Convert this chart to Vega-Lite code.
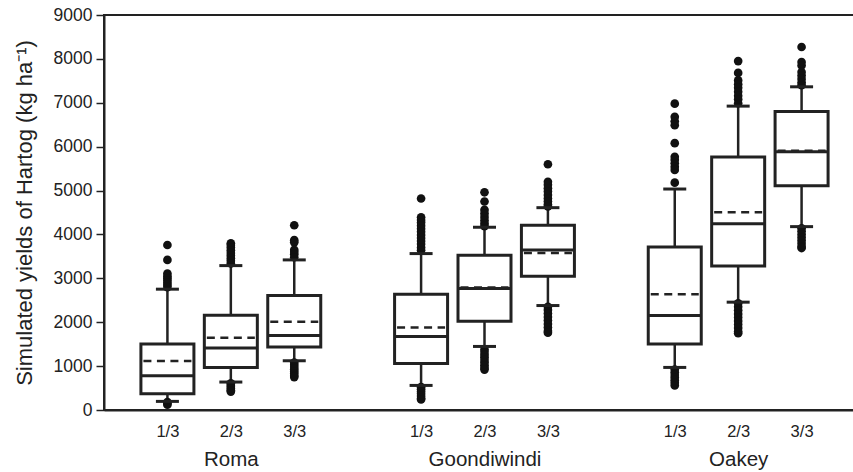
{
  "$schema": "https://vega.github.io/schema/vega-lite/v6.json",
  "width": 761,
  "height": 395,
  "autosize": "none",
  "padding": {"left": 104, "top": 15, "right": 0, "bottom": 62},
  "background": "white",
  "config": {
    "view": {"stroke": "#222", "strokeWidth": 2},
    "axis": {"labelFont": "Liberation Sans", "titleFont": "Liberation Sans", "labelColor": "#222", "titleColor": "#222", "grid": false, "domainColor": "#222", "tickColor": "#222"},
    "axisY": {"labelFontSize": 17.5, "labelPadding": 4, "tickSize": 8, "tickWidth": 1.5, "domainWidth": 2, "titleFontSize": 22, "titleFontWeight": "normal", "titlePadding": 17}
  },
  "datasets": {
    "boxes": [
      {"group": "Roma 1/3", "lower": 196, "q1": 371, "median": 780, "mean": 1115, "q3": 1502, "upper": 2753},
      {"group": "Roma 2/3", "lower": 637, "q1": 970, "median": 1411, "mean": 1645, "q3": 2161, "upper": 3290},
      {"group": "Roma 3/3", "lower": 1122, "q1": 1433, "median": 1697, "mean": 2009, "q3": 2608, "upper": 3420},
      {"group": "Goondiwindi 1/3", "lower": 560, "q1": 1061, "median": 1675, "mean": 1880, "q3": 2639, "upper": 3564},
      {"group": "Goondiwindi 2/3", "lower": 1448, "q1": 2025, "median": 2767, "mean": 2790, "q3": 3527, "upper": 4164},
      {"group": "Goondiwindi 3/3", "lower": 2380, "q1": 3049, "median": 3647, "mean": 3579, "q3": 4209, "upper": 4610},
      {"group": "Oakey 1/3", "lower": 970, "q1": 1502, "median": 2152, "mean": 2639, "q3": 3716, "upper": 5035},
      {"group": "Oakey 2/3", "lower": 2457, "q1": 3283, "median": 4246, "mean": 4504, "q3": 5763, "upper": 6924},
      {"group": "Oakey 3/3", "lower": 4178, "q1": 5110, "median": 5884, "mean": 5907, "q3": 6803, "upper": 7364}
    ],
    "outliers": [
      {"group": "Roma 1/3", "yield": 3760}, {"group": "Roma 1/3", "yield": 3420}, {"group": "Roma 1/3", "yield": 3110},
      {"group": "Roma 1/3", "yield": 3050}, {"group": "Roma 1/3", "yield": 3000}, {"group": "Roma 1/3", "yield": 2950},
      {"group": "Roma 1/3", "yield": 2900}, {"group": "Roma 1/3", "yield": 2850}, {"group": "Roma 1/3", "yield": 2800},
      {"group": "Roma 1/3", "yield": 180}, {"group": "Roma 1/3", "yield": 150}, {"group": "Roma 1/3", "yield": 120},
      {"group": "Roma 2/3", "yield": 3800}, {"group": "Roma 2/3", "yield": 3760}, {"group": "Roma 2/3", "yield": 3700},
      {"group": "Roma 2/3", "yield": 3640}, {"group": "Roma 2/3", "yield": 3580}, {"group": "Roma 2/3", "yield": 3520},
      {"group": "Roma 2/3", "yield": 3460}, {"group": "Roma 2/3", "yield": 3400}, {"group": "Roma 2/3", "yield": 3340},
      {"group": "Roma 2/3", "yield": 610}, {"group": "Roma 2/3", "yield": 570}, {"group": "Roma 2/3", "yield": 530},
      {"group": "Roma 2/3", "yield": 490}, {"group": "Roma 2/3", "yield": 450}, {"group": "Roma 2/3", "yield": 420},
      {"group": "Roma 3/3", "yield": 4210}, {"group": "Roma 3/3", "yield": 3870}, {"group": "Roma 3/3", "yield": 3820},
      {"group": "Roma 3/3", "yield": 3650}, {"group": "Roma 3/3", "yield": 3600}, {"group": "Roma 3/3", "yield": 3550},
      {"group": "Roma 3/3", "yield": 3480}, {"group": "Roma 3/3", "yield": 1080}, {"group": "Roma 3/3", "yield": 1030},
      {"group": "Roma 3/3", "yield": 980}, {"group": "Roma 3/3", "yield": 930}, {"group": "Roma 3/3", "yield": 880},
      {"group": "Roma 3/3", "yield": 830}, {"group": "Roma 3/3", "yield": 780}, {"group": "Roma 3/3", "yield": 750},
      {"group": "Goondiwindi 1/3", "yield": 4820}, {"group": "Goondiwindi 1/3", "yield": 4390}, {"group": "Goondiwindi 1/3", "yield": 4330},
      {"group": "Goondiwindi 1/3", "yield": 4270}, {"group": "Goondiwindi 1/3", "yield": 4200}, {"group": "Goondiwindi 1/3", "yield": 4130},
      {"group": "Goondiwindi 1/3", "yield": 4060}, {"group": "Goondiwindi 1/3", "yield": 3990}, {"group": "Goondiwindi 1/3", "yield": 3920},
      {"group": "Goondiwindi 1/3", "yield": 3850}, {"group": "Goondiwindi 1/3", "yield": 3780}, {"group": "Goondiwindi 1/3", "yield": 3700},
      {"group": "Goondiwindi 1/3", "yield": 3640}, {"group": "Goondiwindi 1/3", "yield": 520}, {"group": "Goondiwindi 1/3", "yield": 470},
      {"group": "Goondiwindi 1/3", "yield": 420}, {"group": "Goondiwindi 1/3", "yield": 370}, {"group": "Goondiwindi 1/3", "yield": 320},
      {"group": "Goondiwindi 1/3", "yield": 270}, {"group": "Goondiwindi 1/3", "yield": 240},
      {"group": "Goondiwindi 2/3", "yield": 4960}, {"group": "Goondiwindi 2/3", "yield": 4750}, {"group": "Goondiwindi 2/3", "yield": 4560},
      {"group": "Goondiwindi 2/3", "yield": 4480}, {"group": "Goondiwindi 2/3", "yield": 4400}, {"group": "Goondiwindi 2/3", "yield": 4320},
      {"group": "Goondiwindi 2/3", "yield": 4250}, {"group": "Goondiwindi 2/3", "yield": 4190}, {"group": "Goondiwindi 2/3", "yield": 1380},
      {"group": "Goondiwindi 2/3", "yield": 1320}, {"group": "Goondiwindi 2/3", "yield": 1260}, {"group": "Goondiwindi 2/3", "yield": 1200},
      {"group": "Goondiwindi 2/3", "yield": 1140}, {"group": "Goondiwindi 2/3", "yield": 1080}, {"group": "Goondiwindi 2/3", "yield": 1020},
      {"group": "Goondiwindi 2/3", "yield": 960}, {"group": "Goondiwindi 2/3", "yield": 920},
      {"group": "Goondiwindi 3/3", "yield": 5600}, {"group": "Goondiwindi 3/3", "yield": 5200}, {"group": "Goondiwindi 3/3", "yield": 5130},
      {"group": "Goondiwindi 3/3", "yield": 5050}, {"group": "Goondiwindi 3/3", "yield": 4980}, {"group": "Goondiwindi 3/3", "yield": 4900},
      {"group": "Goondiwindi 3/3", "yield": 4820}, {"group": "Goondiwindi 3/3", "yield": 4750}, {"group": "Goondiwindi 3/3", "yield": 4680},
      {"group": "Goondiwindi 3/3", "yield": 4640}, {"group": "Goondiwindi 3/3", "yield": 2350}, {"group": "Goondiwindi 3/3", "yield": 2280},
      {"group": "Goondiwindi 3/3", "yield": 2200}, {"group": "Goondiwindi 3/3", "yield": 2120}, {"group": "Goondiwindi 3/3", "yield": 2040},
      {"group": "Goondiwindi 3/3", "yield": 1960}, {"group": "Goondiwindi 3/3", "yield": 1880}, {"group": "Goondiwindi 3/3", "yield": 1800},
      {"group": "Goondiwindi 3/3", "yield": 1760},
      {"group": "Oakey 1/3", "yield": 6980}, {"group": "Oakey 1/3", "yield": 6680}, {"group": "Oakey 1/3", "yield": 6580},
      {"group": "Oakey 1/3", "yield": 6490}, {"group": "Oakey 1/3", "yield": 6080}, {"group": "Oakey 1/3", "yield": 5770},
      {"group": "Oakey 1/3", "yield": 5700}, {"group": "Oakey 1/3", "yield": 5620}, {"group": "Oakey 1/3", "yield": 5540},
      {"group": "Oakey 1/3", "yield": 5470}, {"group": "Oakey 1/3", "yield": 5180}, {"group": "Oakey 1/3", "yield": 920},
      {"group": "Oakey 1/3", "yield": 860}, {"group": "Oakey 1/3", "yield": 800}, {"group": "Oakey 1/3", "yield": 740},
      {"group": "Oakey 1/3", "yield": 680}, {"group": "Oakey 1/3", "yield": 620}, {"group": "Oakey 1/3", "yield": 560},
      {"group": "Oakey 2/3", "yield": 7950}, {"group": "Oakey 2/3", "yield": 7680}, {"group": "Oakey 2/3", "yield": 7510},
      {"group": "Oakey 2/3", "yield": 7420}, {"group": "Oakey 2/3", "yield": 7340}, {"group": "Oakey 2/3", "yield": 7250},
      {"group": "Oakey 2/3", "yield": 7160}, {"group": "Oakey 2/3", "yield": 7080}, {"group": "Oakey 2/3", "yield": 6990},
      {"group": "Oakey 2/3", "yield": 2430}, {"group": "Oakey 2/3", "yield": 2350}, {"group": "Oakey 2/3", "yield": 2270},
      {"group": "Oakey 2/3", "yield": 2190}, {"group": "Oakey 2/3", "yield": 2110}, {"group": "Oakey 2/3", "yield": 2030},
      {"group": "Oakey 2/3", "yield": 1950}, {"group": "Oakey 2/3", "yield": 1870}, {"group": "Oakey 2/3", "yield": 1790},
      {"group": "Oakey 2/3", "yield": 1750},
      {"group": "Oakey 3/3", "yield": 8270}, {"group": "Oakey 3/3", "yield": 7930}, {"group": "Oakey 3/3", "yield": 7850},
      {"group": "Oakey 3/3", "yield": 7700}, {"group": "Oakey 3/3", "yield": 7620}, {"group": "Oakey 3/3", "yield": 7540},
      {"group": "Oakey 3/3", "yield": 7460}, {"group": "Oakey 3/3", "yield": 7400}, {"group": "Oakey 3/3", "yield": 4140},
      {"group": "Oakey 3/3", "yield": 4070}, {"group": "Oakey 3/3", "yield": 4000}, {"group": "Oakey 3/3", "yield": 3930},
      {"group": "Oakey 3/3", "yield": 3860}, {"group": "Oakey 3/3", "yield": 3790}, {"group": "Oakey 3/3", "yield": 3720},
      {"group": "Oakey 3/3", "yield": 3690}
    ]
  },
  "resolve": {"axis": {"x": "independent"}},
  "layer": [
    {
      "data": {"name": "boxes"},
      "mark": {"type": "rule", "color": "#222", "strokeWidth": 2.5},
      "encoding": {
        "x": {
          "field": "group", "type": "nominal",
          "scale": {"type": "point", "padding": 1, "domain": ["Roma 1/3", "Roma 2/3", "Roma 3/3", "gap1", "Goondiwindi 1/3", "Goondiwindi 2/3", "Goondiwindi 3/3", "gap2", "Oakey 1/3", "Oakey 2/3", "Oakey 3/3"]},
          "axis": {
            "orient": "bottom", "title": null, "ticks": false, "tickSize": 0,
            "values": ["Roma 1/3", "Roma 2/3", "Roma 3/3", "Goondiwindi 1/3", "Goondiwindi 2/3", "Goondiwindi 3/3", "Oakey 1/3", "Oakey 2/3", "Oakey 3/3"],
            "labelExpr": "split(datum.label, ' ')[1]",
            "labelAngle": 0, "labelFontSize": 16.5, "labelPadding": 13,
            "domain": true, "domainWidth": 2
          }
        },
        "y": {
          "field": "lower", "type": "quantitative",
          "scale": {"domain": [0, 9000], "nice": false, "zero": true},
          "axis": {"title": "Simulated yields of Hartog (kg ha⁻¹)", "values": [0, 1000, 2000, 3000, 4000, 5000, 6000, 7000, 8000, 9000], "format": "d"}
        },
        "y2": {"field": "upper"}
      }
    },
    {
      "data": {"name": "boxes"},
      "mark": {"type": "bar", "width": 53, "fill": "white", "stroke": "#222", "strokeWidth": 3},
      "encoding": {
        "x": {
          "field": "group", "type": "nominal",
          "axis": {
            "orient": "bottom", "title": null, "ticks": false, "tickSize": 0, "domain": false,
            "values": ["Roma 2/3", "Goondiwindi 2/3", "Oakey 2/3"],
            "labelExpr": "split(datum.label, ' ')[0]",
            "labelAngle": 0, "labelFontSize": 20.5, "labelPadding": 39,
            "encode": {"labels": {"update": {"dx": {"signal": "datum.value == 'Roma 2/3' ? 3 : datum.value == 'Goondiwindi 2/3' ? -6 : 7"}}}}
          }
        },
        "y": {"field": "q1", "type": "quantitative", "axis": {"title": "Simulated yields of Hartog (kg ha⁻¹)", "values": [0, 1000, 2000, 3000, 4000, 5000, 6000, 7000, 8000, 9000], "format": "d"}},
        "y2": {"field": "q3"}
      }
    },
    {
      "data": {"name": "boxes"},
      "mark": {"type": "rule", "color": "#222", "strokeWidth": 3, "xOffset": -26, "x2Offset": 26},
      "encoding": {
        "x": {"field": "group", "type": "nominal", "axis": null},
        "x2": {"field": "group"},
        "y": {"field": "median", "type": "quantitative", "axis": {"title": "Simulated yields of Hartog (kg ha⁻¹)", "values": [0, 1000, 2000, 3000, 4000, 5000, 6000, 7000, 8000, 9000], "format": "d"}}
      }
    },
    {
      "data": {"name": "boxes"},
      "mark": {"type": "rule", "color": "#222", "strokeWidth": 2.5, "strokeDash": [8, 5.5], "xOffset": -24, "x2Offset": 24},
      "encoding": {
        "x": {"field": "group", "type": "nominal", "axis": null},
        "x2": {"field": "group"},
        "y": {"field": "mean", "type": "quantitative", "axis": {"title": "Simulated yields of Hartog (kg ha⁻¹)", "values": [0, 1000, 2000, 3000, 4000, 5000, 6000, 7000, 8000, 9000], "format": "d"}}
      }
    },
    {
      "data": {"name": "outliers"},
      "mark": {"type": "circle", "color": "#111", "opacity": 1, "size": 75},
      "encoding": {
        "x": {"field": "group", "type": "nominal", "axis": null},
        "y": {"field": "yield", "type": "quantitative", "axis": {"title": "Simulated yields of Hartog (kg ha⁻¹)", "values": [0, 1000, 2000, 3000, 4000, 5000, 6000, 7000, 8000, 9000], "format": "d"}}
      }
    },
    {
      "data": {"name": "boxes"},
      "mark": {"type": "rule", "color": "#222", "strokeWidth": 3, "xOffset": -11.5, "x2Offset": 11.5},
      "encoding": {
        "x": {"field": "group", "type": "nominal", "axis": null},
        "x2": {"field": "group"},
        "y": {"field": "lower", "type": "quantitative", "axis": {"title": "Simulated yields of Hartog (kg ha⁻¹)", "values": [0, 1000, 2000, 3000, 4000, 5000, 6000, 7000, 8000, 9000], "format": "d"}}
      }
    },
    {
      "data": {"name": "boxes"},
      "mark": {"type": "rule", "color": "#222", "strokeWidth": 3, "xOffset": -11.5, "x2Offset": 11.5},
      "encoding": {
        "x": {"field": "group", "type": "nominal", "axis": null},
        "x2": {"field": "group"},
        "y": {"field": "upper", "type": "quantitative", "axis": {"title": "Simulated yields of Hartog (kg ha⁻¹)", "values": [0, 1000, 2000, 3000, 4000, 5000, 6000, 7000, 8000, 9000], "format": "d"}}
      }
    }
  ]
}
